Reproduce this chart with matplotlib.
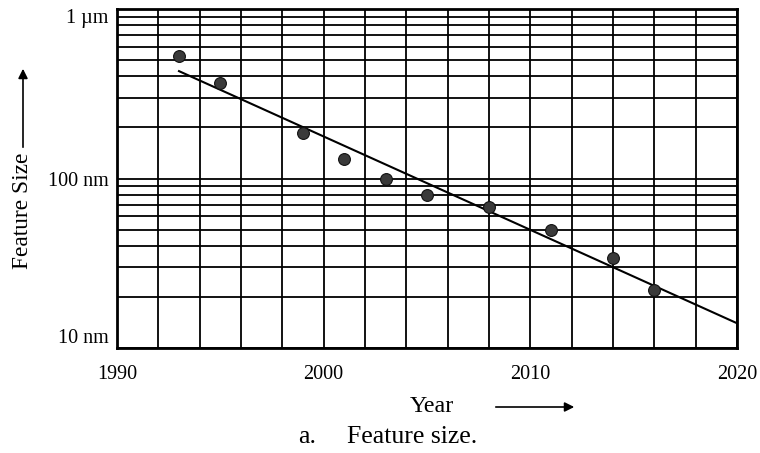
import numpy as np
import matplotlib.pyplot as plt
from matplotlib.ticker import FixedLocator, LogLocator, NullFormatter

plt.rcParams['font.family'] = ['Liberation Serif', 'DejaVu Serif']

# feature size by year (nm)
years = [1993, 1995, 1999, 2001, 2003, 2005, 2008, 2011, 2014, 2016]
sizes = [530, 365, 185, 130, 100, 80, 68, 50, 34, 22]

# trend line end points
trend_years = [1993, 2020]
trend_sizes = [430, 14]

x_ticks = [1990, 2000, 2010, 2020]
y_ticks = [10, 100, 1000]
y_labels = ['10 nm', '100 nm', '1 \u00b5m']

fig = plt.figure(figsize=(7.6, 4.53), dpi=100)
ax = fig.add_axes([117 / 760, 105 / 453, 620 / 760, 339 / 453])

ax.set_yscale('log')
ax.set_xlim(1990, 2020)
ax.set_ylim(10, 1000)

ax.plot(trend_years, trend_sizes, color='black', lw=1.5, zorder=3)
ax.plot(years, sizes, 'o', ms=8.5, color='#3a3a3a', mec='#111111', mew=0.8, zorder=4)

# grid: every 2 years, and every log step on y
ax.xaxis.set_major_locator(FixedLocator(x_ticks))
ax.xaxis.set_minor_locator(FixedLocator(np.arange(1990, 2021, 2)))
ax.yaxis.set_major_locator(FixedLocator(y_ticks))
ax.yaxis.set_minor_locator(LogLocator(base=10, subs=np.arange(2, 10)))
ax.yaxis.set_minor_formatter(NullFormatter())
ax.set_xticklabels([str(x) for x in x_ticks])
ax.set_yticklabels(y_labels)
ax.grid(True, which='both', color='black', lw=1.3)
ax.set_axisbelow(True)

ax.tick_params(which='both', length=0, labelsize=14.5)
ax.tick_params(axis='x', pad=12)
ax.tick_params(axis='y', pad=6)
# keep the end labels inside the frame
ylabs = ax.get_yticklabels()
ylabs[0].set_va('bottom')
ylabs[-1].set_va('top')
for s in ax.spines.values():
    s.set_linewidth(2)

# axis labels with arrows
fig.text(23 / 760, 1 - 211 / 453, 'Feature Size', rotation=90, fontsize=16.8,
         ha='center', va='center')
ax.annotate('', xy=(23, 453 - 66), xytext=(23, 453 - 150),
            xycoords='figure pixels', textcoords='figure pixels',
            arrowprops=dict(arrowstyle='-|>', color='black', lw=1.2,
                            mutation_scale=14))
fig.text(432 / 760, 1 - 406 / 453, 'Year', fontsize=17.3, ha='center', va='center')
ax.annotate('', xy=(577, 453 - 407), xytext=(493, 453 - 407),
            xycoords='figure pixels', textcoords='figure pixels',
            arrowprops=dict(arrowstyle='-|>', color='black', lw=1.2,
                            mutation_scale=14))
fig.text(298 / 760, 1 - 437 / 453, 'a.', fontsize=18.5, ha='left', va='center')
fig.text(347 / 760, 1 - 437 / 453, 'Feature size.', fontsize=18.5,
         ha='left', va='center')

fig.savefig('out.png', dpi=100)
